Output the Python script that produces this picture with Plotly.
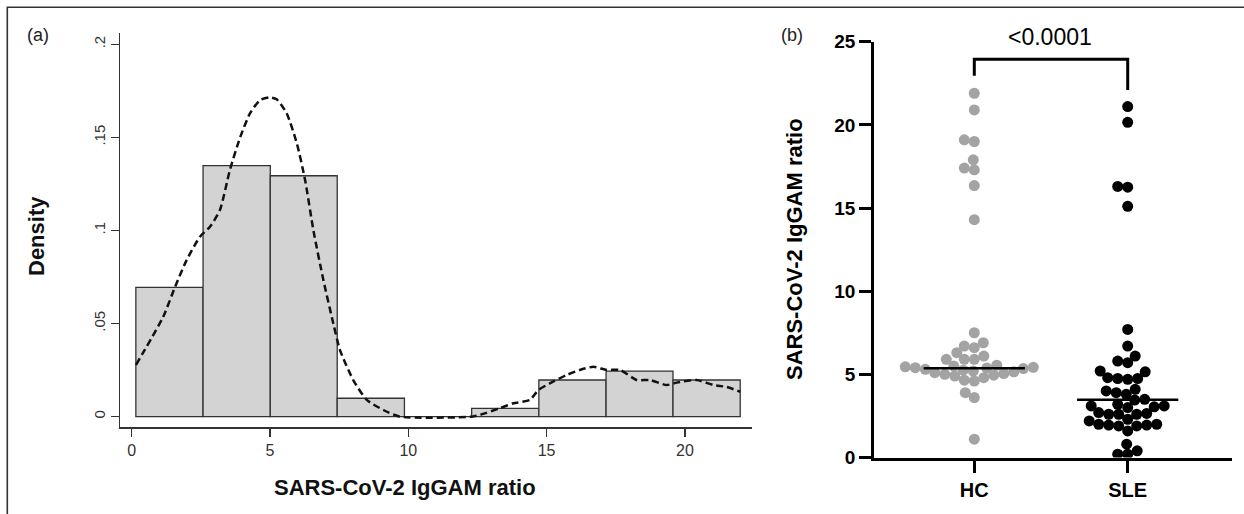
import numpy as np
import plotly.graph_objects as go

W, H = 1244, 514
FONT = "Liberation Sans, Arial, Helvetica, sans-serif"

# ---------------- Panel (a): histogram + kernel density ----------------
bin_edges = [0.15, 2.58, 5.01, 7.43, 9.86, 12.29, 14.72, 17.15, 19.57, 22.0]
bin_density = [0.0695, 0.1348, 0.1294, 0.0099, 0.0, 0.0045, 0.0197, 0.0245, 0.0197]

kde_x = [0.155, 1.14, 1.57, 1.99, 2.47, 2.83, 3.19, 3.55, 3.92, 4.28, 4.64, 5.0,
         5.24, 5.6, 5.97, 6.27, 6.57, 6.93, 7.29, 7.53, 8.01, 8.5, 9.1, 9.7,
         12.3, 12.6, 13.3, 13.8, 14.4, 14.7, 15.13, 15.73, 16.2, 16.69, 17.17,
         17.65, 18.26, 18.74, 19.34, 19.7, 20.43, 21.03, 21.5, 22.0]
kde_y = [0.0278, 0.0537, 0.0698, 0.0842, 0.0967, 0.102, 0.111, 0.1325, 0.150,
         0.163, 0.170, 0.1715, 0.1705, 0.163, 0.1468, 0.127, 0.100, 0.0734,
         0.050, 0.0358, 0.0197, 0.009, 0.0036, 0.0, 0.0, 0.001, 0.0045, 0.0072,
         0.009, 0.0143, 0.018, 0.0224, 0.0251, 0.0268, 0.0251, 0.0251, 0.0197,
         0.0197, 0.017, 0.0183, 0.0197, 0.017, 0.016, 0.0134]

a_xticks = [0, 5, 10, 15, 20]
a_yticks = [0, 0.05, 0.1, 0.15, 0.2]
a_yticklabels = ["0", ".05", ".1", ".15", ".2"]
a_xtitle = "SARS-CoV-2 IgGAM ratio"
a_ytitle = "Density"

# ---------------- Panel (b): scatter dot plot ----------------
groups = ["HC", "SLE"]
hc_values = [21.9, 20.9, 19.1, 19.0, 17.9, 17.4, 17.3, 16.35, 14.3,
             7.5, 6.9, 6.7, 6.6, 6.3, 6.1, 5.9, 5.9, 5.9,
             5.55, 5.5, 5.45, 5.42, 5.38, 5.35, 5.3, 5.25, 5.2, 5.15,
             5.1, 5.05, 5.0, 4.95, 4.9, 4.8, 4.65, 4.6, 3.9, 3.6, 1.1, 5.4]
sle_values = [21.1, 20.15, 16.3, 16.25, 15.1, 7.7,
              6.7, 6.1, 5.8, 5.7, 5.2, 5.15,
              4.8, 4.75, 4.75, 4.7, 4.1, 4.0, 3.9, 3.8, 3.5, 3.45,
              3.2, 3.1, 3.1, 3.05, 3.0, 2.7, 2.65, 2.6, 2.6, 2.6,
              2.3, 2.2, 2.0, 2.0, 1.95, 1.95, 1.9, 1.9, 1.6, 0.8, 0.4, 0.2, 0.2]
group_medians = [5.37, 3.47]
b_yticks = [0, 5, 10, 15, 20, 25]
b_ytitle = "SARS-CoV-2 IgGAM ratio"
p_value_label = "<0.0001"
panel_labels = ["(a)", "(b)"]


def px_x(v):
    return v / W


def px_y(v):
    return 1 - v / H


# ---- layout geometry (pixels) ----
a_left, a_right, a_top, a_bottom = 120.0, 751.7, 33.0, 427.0
a_x0_px, a_xscale = 131.7, 27.66          # px of x=0, px per unit
a_y0_px, a_yscale = 416.7, 1862.0         # px of y=0, px per unit
a_xrange = [(a_left - a_x0_px) / a_xscale, (a_right - a_x0_px) / a_xscale]
a_yrange = [(a_y0_px - a_bottom) / a_yscale, (a_y0_px - a_top) / a_yscale]

b_left, b_right, b_top, b_bottom = 874.2, 1231.7, 41.7, 457.5
b_cat0_px, b_xscale = 974.3, 153.4
b_xrange = [(b_left - b_cat0_px) / b_xscale, (b_right - b_cat0_px) / b_xscale]
b_yrange = [0, 25]
b_yscale = (b_bottom - b_top) / (b_yrange[1] - b_yrange[0])

MARKER_D = 11


def swarm_offsets(values, min_dist, ypx_per_unit):
    vals = np.asarray(values, dtype=float)
    order = np.argsort(vals)
    cands = sorted(np.arange(-70, 70.01, 0.5), key=lambda c: (abs(c), c))
    placed = []
    offs = np.zeros(len(vals))
    for i in order:
        y = vals[i] * ypx_per_unit
        near = [(px, py) for px, py in placed if abs(py - y) < min_dist]
        chosen = 0.0
        for c in cands:
            if all((c - px) ** 2 + (y - py) ** 2 >= min_dist ** 2 for px, py in near):
                chosen = c
                break
        placed.append((chosen, y))
        offs[i] = chosen
    return offs


fig = go.Figure()

# histogram bars
centers = [(bin_edges[i] + bin_edges[i + 1]) / 2 for i in range(len(bin_density))]
widths = [bin_edges[i + 1] - bin_edges[i] for i in range(len(bin_density))]
fig.add_trace(go.Bar(
    x=centers, y=bin_density, width=widths,
    marker=dict(color="#d3d3d3", line=dict(color="#333333", width=1.3)),
    xaxis="x", yaxis="y", showlegend=False, hoverinfo="skip"))

# kernel density (dashed)
fig.add_trace(go.Scatter(
    x=kde_x, y=kde_y, mode="lines",
    line=dict(color="#111111", width=2.5, dash="7px,4px", shape="spline", smoothing=0.6),
    xaxis="x", yaxis="y", showlegend=False, hoverinfo="skip"))

# panel (b) dots
colors = ["#a3a3a3", "#000000"]
for gi, vals in enumerate([hc_values, sle_values]):
    offs = swarm_offsets(vals, 10.0, b_yscale)
    fig.add_trace(go.Scatter(
        x=[gi + o / b_xscale for o in offs], y=vals, mode="markers",
        marker=dict(size=MARKER_D, color=colors[gi], line=dict(width=0)),
        xaxis="x2", yaxis="y2", showlegend=False, hoverinfo="skip"))

# median lines
half = 0.33
for gi, m in enumerate(group_medians):
    fig.add_trace(go.Scatter(
        x=[gi - half, gi + half], y=[m, m], mode="lines",
        line=dict(color="black", width=2.5),
        xaxis="x2", yaxis="y2", showlegend=False, hoverinfo="skip"))

# significance bracket
fig.add_trace(go.Scatter(
    x=[0, 0, 1, 1], y=[22.95, 23.95, 23.95, 22.1], mode="lines",
    line=dict(color="black", width=3),
    xaxis="x2", yaxis="y2", showlegend=False, hoverinfo="skip", cliponaxis=False))

fig.update_layout(
    width=W, height=H,
    margin=dict(l=0, r=0, t=0, b=0),
    paper_bgcolor="white", plot_bgcolor="white",
    bargap=0,
    font=dict(family=FONT, color="#222222"),
    xaxis=dict(
        domain=[px_x(a_left), px_x(a_right)], range=a_xrange,
        showgrid=False, zeroline=False, showline=True, linecolor="#333333", linewidth=1.5,
        ticks="outside", ticklen=8, tickwidth=1.2, tickcolor="#333333",
        tickvals=a_xticks, ticktext=[str(t) for t in a_xticks],
        tickfont=dict(family=FONT, size=16, color="#333333"),
        anchor="y", automargin=False, fixedrange=True),
    yaxis=dict(
        domain=[px_y(a_bottom), px_y(a_top)], range=a_yrange,
        showgrid=False, zeroline=False, showline=True, linecolor="#333333", linewidth=1.5,
        ticks="outside", ticklen=8, tickwidth=1.2, tickcolor="#333333",
        tickvals=a_yticks, ticktext=a_yticklabels, tickangle=-90,
        tickfont=dict(family=FONT, size=15, color="#333333"),
        anchor="x", automargin=False, fixedrange=True),
    xaxis2=dict(
        domain=[px_x(b_left), px_x(b_right)], range=b_xrange,
        showgrid=False, zeroline=False, showline=True, linecolor="black", linewidth=3,
        ticks="outside", ticklen=12, tickwidth=3, tickcolor="black",
        tickvals=[0, 1], ticktext=["<b>%s</b>" % g for g in groups],
        tickfont=dict(family=FONT, size=20, color="black"),
        anchor="y2", automargin=False, fixedrange=True),
    yaxis2=dict(
        domain=[px_y(b_bottom), px_y(b_top)], range=b_yrange,
        showgrid=False, zeroline=False, showline=True, linecolor="black", linewidth=3,
        ticks="outside", ticklen=12, tickwidth=3, tickcolor="black",
        tickvals=b_yticks, ticktext=["<b>%d</b>" % t for t in b_yticks],
        tickfont=dict(family=FONT, size=19, color="black"),
        anchor="x2", automargin=False, fixedrange=True),
)

annots = [
    dict(text=panel_labels[0], x=px_x(38), y=px_y(35), font=dict(size=18, color="#222222")),
    dict(text=panel_labels[1], x=px_x(792), y=px_y(35), font=dict(size=18, color="#222222")),
    dict(text="<b>%s</b>" % a_ytitle, x=px_x(37), y=px_y(236), textangle=-90,
         font=dict(size=22, color="#111111")),
    dict(text="<b>%s</b>" % a_xtitle, x=px_x(405), y=px_y(487),
         font=dict(size=22, color="#111111")),
    dict(text="<b>%s</b>" % b_ytitle, x=px_x(794), y=px_y(249), textangle=-90,
         font=dict(size=22, color="black")),
    dict(text=p_value_label, x=px_x(1050), y=px_y(37), font=dict(size=23, color="black")),
]
for a in annots:
    a.update(xref="paper", yref="paper", xanchor="center", yanchor="middle",
             showarrow=False, font=dict(family=FONT, **a["font"]))
fig.update_layout(annotations=annots)

# outer frame (top and left edges)
fig.add_shape(type="path",
              path="M %f,%f L %f,%f L %f,%f" % (px_x(7.3), 0.0, px_x(7.3), px_y(7.3), 1.0, px_y(7.3)),
              xref="paper", yref="paper", line=dict(color="#333333", width=1.6))

# remove the default page margin so the figure sits at the window origin
fig.write_html("out.html",
               config={"displayModeBar": False, "staticPlot": True},
               post_script="document.body.style.margin='0';document.body.style.overflow='hidden';")
